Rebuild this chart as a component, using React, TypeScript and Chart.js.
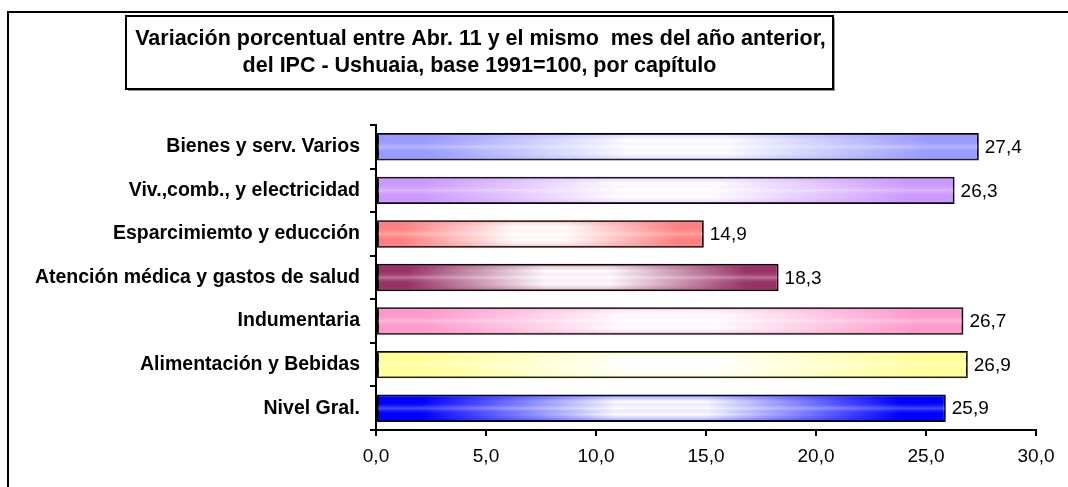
import React, { useEffect, useRef } from "react";
import { Chart, registerables } from "chart.js";

Chart.register(...registerables);

const categories = [
  "Bienes y serv. Varios",
  "Viv.,comb., y electricidad",
  "Esparcimiemto y educción",
  "Atención médica y gastos de salud",
  "Indumentaria",
  "Alimentación y Bebidas",
  "Nivel Gral.",
];
const values = [27.4, 26.3, 14.9, 18.3, 26.7, 26.9, 25.9];
const barColors = ["#9999FF", "#CC99FF", "#FF8080", "#993366", "#FF99CC", "#FFFF99", "#0000FF"];
const titleLines = [
  "Variación porcentual entre Abr. 11 y el mismo  mes del año anterior,",
  "del IPC - Ushuaia, base 1991=100, por capítulo",
];
const xMin = 0;
const xMax = 30;
const xStep = 5;

const FONT = "'Liberation Sans', Arial, sans-serif";
const fmt = (v: number) => v.toFixed(1).replace(".", ",");

function hexToRgba(hex: string, a: number) {
  const n = parseInt(hex.slice(1), 16);
  return `rgba(${(n >> 16) & 255},${(n >> 8) & 255},${n & 255},${a})`;
}

const decorPlugin = {
  id: "decor",
  beforeDraw(chart: any) {
    const ctx = chart.ctx;
    ctx.save();
    ctx.strokeStyle = "#000";
    ctx.lineWidth = 2;
    ctx.beginPath();
    ctx.moveTo(8, chart.height + 2);
    ctx.lineTo(8, 12);
    ctx.lineTo(chart.width + 2, 12);
    ctx.stroke();
    ctx.restore();
  },
  afterDatasetsDraw(chart: any) {
    const ctx = chart.ctx;
    const meta = chart.getDatasetMeta(0);
    ctx.save();
    meta.data.forEach((el: any, i: number) => {
      const h = el.height;
      const left = Math.min(el.base, el.x) + 1;
      const right = Math.max(el.base, el.x) - 1;
      const top = el.y - h / 2 + 1;
      const bottom = el.y + h / 2 - 1;
      const g = ctx.createLinearGradient(0, top, 0, bottom);
      const c = barColors[i];
      g.addColorStop(0, hexToRgba(c, 0.35));
      g.addColorStop(0.25, hexToRgba(c, 0));
      g.addColorStop(0.5, "rgba(255,255,255,0.3)");
      g.addColorStop(0.75, hexToRgba(c, 0));
      g.addColorStop(1, hexToRgba(c, 0.35));
      ctx.fillStyle = g;
      ctx.fillRect(left, top, right - left, bottom - top);
      ctx.fillStyle = "#000";
      ctx.font = `19px ${FONT}`;
      ctx.textAlign = "left";
      ctx.textBaseline = "middle";
      ctx.fillText(fmt(values[i]), el.x + 6, el.y + 1);
    });
    ctx.restore();
  },
  afterDraw(chart: any) {
    const ctx = chart.ctx;
    ctx.save();
    const bx = 126, by = 16, bw = 707, bh = 73;
    ctx.fillStyle = "#999";
    ctx.fillRect(bx + 2, by + 2, bw, bh);
    ctx.fillStyle = "#fff";
    ctx.fillRect(bx, by, bw, bh);
    ctx.strokeStyle = "#000";
    ctx.lineWidth = 2;
    ctx.strokeRect(bx, by, bw, bh);
    ctx.fillStyle = "#000";
    ctx.font = `bold 21.5px ${FONT}`;
    ctx.textAlign = "center";
    ctx.textBaseline = "middle";
    ctx.fillText(titleLines[0], bx + bw / 2 + 1, 39);
    ctx.fillText(titleLines[1], bx + bw / 2, 66);
    ctx.restore();
  },
};

export default function App() {
  const ref = useRef<HTMLCanvasElement>(null);
  useEffect(() => {
    if (!ref.current) return;
    const chart = new Chart(ref.current, {
      type: "bar",
      data: {
        labels: categories,
        datasets: [
          {
            data: values,
            backgroundColor: (c: any) => {
              const chart = c.chart;
              const col = barColors[c.dataIndex];
              const xs = chart.scales && chart.scales.x;
              if (!xs || c.raw == null) return col;
              const x0 = xs.getPixelForValue(0);
              const x1 = xs.getPixelForValue(c.raw);
              if (!isFinite(x0) || !isFinite(x1) || x1 - x0 < 1) return col;
              const g = chart.ctx.createLinearGradient(x0, 0, x1, 0);
              g.addColorStop(0, col);
              g.addColorStop(0.08, col);
              g.addColorStop(0.42, "#ffffff");
              g.addColorStop(0.58, "#ffffff");
              g.addColorStop(0.92, col);
              g.addColorStop(1, col);
              return g;
            },
            borderColor: "#000",
            borderWidth: 2,
            borderSkipped: false,
            categoryPercentage: 1,
            barPercentage: 0.63,
          },
        ],
      },
      options: {
        indexAxis: "y",
        responsive: false,
        animation: false,
        layout: { padding: { top: 125, right: 32, bottom: 0, left: 0 } },
        plugins: {
          legend: { display: false },
          tooltip: { enabled: false },
          title: { display: false },
        },
        scales: {
          x: {
            min: xMin,
            max: xMax,
            afterFit: (s: any) => {
              s.height = 57;
            },
            ticks: {
              stepSize: xStep,
              color: "#000",
              font: { family: FONT, size: 19 },
              padding: 9,
              maxRotation: 0,
              callback: (v: any) => fmt(Number(v)),
            },
            grid: {
              drawOnChartArea: false,
              drawTicks: true,
              tickLength: 6,
              color: "#000",
              lineWidth: 2,
            },
            border: { display: true, color: "#000", width: 2 },
          },
          y: {
            afterFit: (s: any) => {
              s.width = 376;
            },
            ticks: {
              color: "#000",
              font: { family: FONT, size: 19.5, weight: "bold" },
              padding: 10,
            },
            grid: {
              offset: true,
              drawOnChartArea: false,
              drawTicks: true,
              tickLength: 6,
              color: "#000",
              lineWidth: 2,
            },
            border: { display: true, color: "#000", width: 2 },
          },
        },
      },
      plugins: [decorPlugin],
    } as any);
    return () => chart.destroy();
  }, []);
  return (
    <div style={{ position: "absolute", left: 0, top: 0, width: 1068, height: 487, background: "#fff" }}>
      <canvas ref={ref} width={1068} height={487} style={{ display: "block" }} />
    </div>
  );
}
